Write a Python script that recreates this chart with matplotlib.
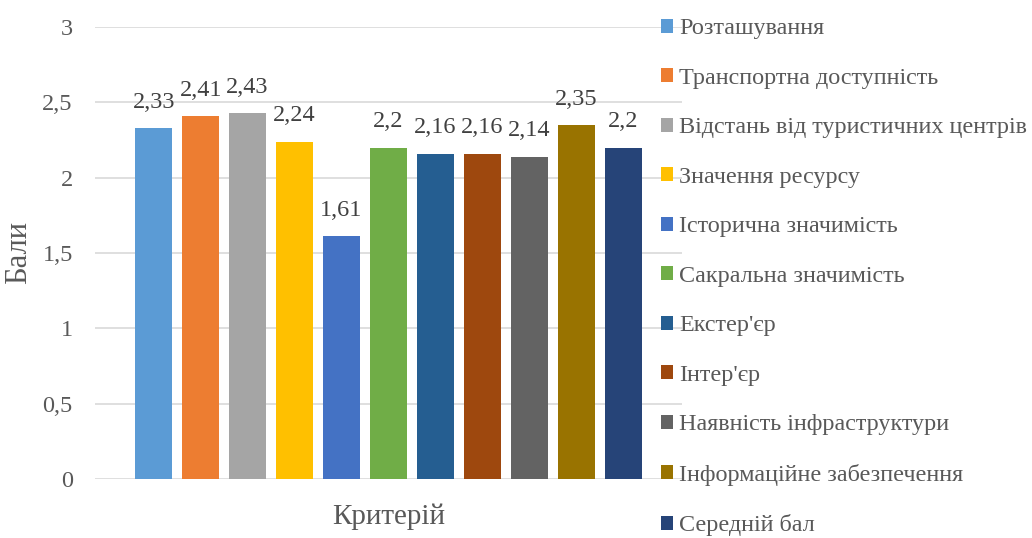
import matplotlib.pyplot as plt
import numpy as np

# Criteria scores (balls)
criteria = [
    "Розташування",
    "Транспортна доступність",
    "Відстань від туристичних центрів",
    "Значення ресурсу",
    "Історична значимість",
    "Сакральна значимість",
    "Екстер'єр",
    "Інтер'єр",
    "Наявність інфраструктури",
    "Інформаційне забезпечення",
    "Середній бал",
]
scores = [2.33, 2.41, 2.43, 2.24, 1.61, 2.2, 2.16, 2.16, 2.14, 2.35, 2.2]
colors = ["#5B9BD5", "#ED7D31", "#A5A5A5", "#FFC000", "#4472C4", "#70AD47",
          "#255E91", "#9E480E", "#636363", "#997300", "#264478"]
yticks = [0, 0.5, 1, 1.5, 2, 2.5, 3]


def fmt(v):
    return ("%g" % v).replace(".", ",")


def main():
    plt.rcParams["font.family"] = ["Liberation Serif", "DejaVu Serif"]
    fig = plt.figure(figsize=(10.32, 5.38), dpi=100)
    ax = fig.add_axes([95 / 1032, 59 / 538, 587 / 1032, 452 / 538])

    n = len(scores)
    step = 0.08
    width = step * 0.79
    xs = (np.arange(n) - (n - 1) / 2) * step

    handles = []
    for x, v, c, name in zip(xs, scores, colors, criteria):
        b = ax.bar(x, v, width=width, color=c, label=name, zorder=3)
        handles.append(b)
        ax.annotate(fmt(v), (x, v), xytext=(0, 14.5), textcoords="offset points",
                    ha="center", va="baseline", fontsize=17.5, color="#404040")

    ax.set_xlim(-0.5, 0.5)
    ax.set_ylim(0, 3)
    ax.set_yticks(yticks)
    ax.set_yticklabels([fmt(t) for t in yticks], fontsize=17.5, color="#595959")
    ax.set_xticks([])
    ax.tick_params(axis="y", length=0, pad=16)
    ax.grid(axis="y", color="#D9D9D9", linewidth=1.2, zorder=0)
    for s in ax.spines.values():
        s.set_visible(False)

    ax.set_ylabel("Бали", fontsize=22, color="#595959")
    ax.yaxis.set_label_coords(-62 / 587, 0.5)
    ax.set_xlabel("Критерій", fontsize=21, color="#595959")
    ax.xaxis.set_label_coords(0.5, -24 / 452)

    fig.legend(handles=handles, loc="upper left", bbox_to_anchor=(651 / 1032, 0.984),
               frameon=False, fontsize=17.4, labelcolor="#595959",
               handlelength=0.5, handleheight=0.5, handletextpad=0.25,
               labelspacing=1.18, borderaxespad=0)

    fig.savefig("out.png", dpi=100, facecolor="white")


if __name__ == "__main__":
    main()
